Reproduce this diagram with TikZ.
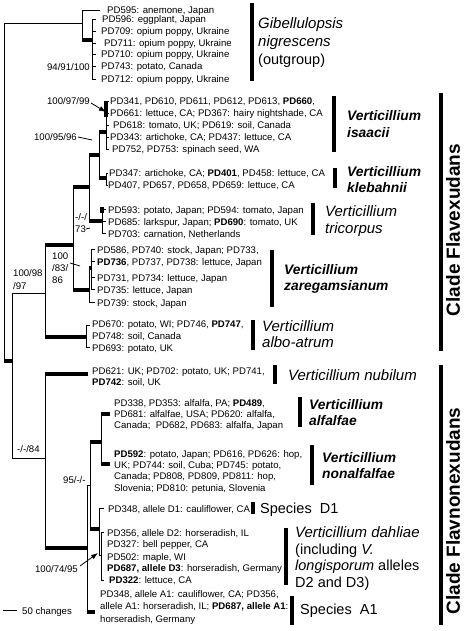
\documentclass[tikz,border=0pt]{standalone}
\usepackage{fontspec}
\setmainfont{Liberation Sans}
\usetikzlibrary{arrows.meta}
\begin{document}
\begin{tikzpicture}[x=1pt,y=-1pt,
  br/.style={line width=0.8pt},
  tb/.style={line width=3.6pt},
  bar/.style={line width=3.2pt},
  arr/.style={line width=0.8pt,-{Latex[length=7pt,width=5pt]}},
  lf/.style={anchor=base west,inner sep=0pt,font=\fontsize{9.6}{12}\selectfont},
  sup/.style={anchor=base west,inner sep=0pt,font=\fontsize{9.6}{12}\selectfont},
  supr/.style={anchor=base east,inner sep=0pt,font=\fontsize{9.6}{12}\selectfont},
  spr/.style={anchor=base west,inner sep=0pt,font=\fontsize{15}{17}\selectfont\itshape},
  spb/.style={anchor=base west,inner sep=0pt,font=\fontsize{13.8}{17}\selectfont\bfseries\itshape},
  spn/.style={anchor=base west,inner sep=0pt,font=\fontsize{14.5}{17}\selectfont},
  clade/.style={rotate=90,inner sep=0pt,font=\fontsize{19}{22}\selectfont\bfseries}]
\useasboundingbox (0,0) rectangle (467,631);

% ---------------- tree ----------------
% root
\draw[br] (4,23) -- (4,361);
\draw[br] (4,23) -- (82,23);
% outgroup
\draw[br] (82,10) -- (82,40);
\draw[br] (82,10) -- (100,10);
\draw[tb] (82,40) -- (92,40);
\draw[br] (92,19) -- (92,79);
\foreach \yy in {19,31,43,54,66,79} \draw[br] (92,\yy) -- (96,\yy);
% ingroup
\draw[tb] (4,361) -- (12,361);
\draw[br] (12,293) -- (12,458);
\draw[br] (12,293) -- (45,293);
\draw[br] (12,458) -- (45,458);
% Flavexudans
\draw[br] (45,245) -- (45,337);
\draw[tb] (45,245) -- (73,245);
\draw[br] (73,187) -- (73,290);
\draw[tb] (73,187) -- (89,187);
\draw[br] (89,155) -- (89,221);
\draw[tb] (89,155) -- (99,155);
\draw[br] (99,132) -- (99,178);
% isaacii
\draw[tb] (99,132) -- (106,132);
\draw[br] (106,101) -- (106,149);
\draw[tb] (106,101) -- (106,117);
\foreach \yy in {101,113,125,137,149} \draw[br] (106,\yy) -- (109,\yy);
% klebahnii
\draw[tb] (99,178) -- (106,178);
\draw[br] (106,173) -- (106,185);
\foreach \yy in {173,185} \draw[br] (106,\yy) -- (108,\yy);
% tricorpus
\draw[tb] (89,221) -- (102,221);
\draw[br] (102,209) -- (102,233);
\draw[tb] (102,207) -- (102,213);
\foreach \yy in {209,221,233} \draw[br] (102,\yy) -- (106,\yy);
% zaregamsianum
\draw[tb] (73,290) -- (89,290);
\draw[br] (89,268) -- (89,302);
\draw[tb] (89,268) -- (91,268);
\draw[br] (91,249) -- (91,289);
\foreach \yy in {249,261,277,289} \draw[br] (91,\yy) -- (95,\yy);
\draw[br] (89,302) -- (95,302);
% albo-atrum
\draw[tb] (45,337) -- (86,337);
\draw[br] (86,325) -- (86,347);
\foreach \yy in {325,347} \draw[br] (86,\yy) -- (90,\yy);
% Flavnonexudans
\draw[br] (45,374) -- (45,548);
\draw[tb] (45,374) -- (88,374);
\draw[tb] (45,548) -- (87,548);
\draw[br] (87,485) -- (87,612);
\draw[br] (87,485) -- (90,485);
\draw[br] (90,442) -- (90,529);
\draw[tb] (90,442) -- (101,442);
\draw[br] (101,414) -- (101,464);
\draw[tb] (101,414) -- (110,414);
\draw[tb] (101,464) -- (110,464);
\draw[tb] (90,529) -- (99,529);
\draw[br] (99,508) -- (99,555);
\draw[br] (99,508) -- (104,508);
\draw[br] (99,555) -- (101,555);
\draw[br] (101,532) -- (101,580);
\foreach \yy in {532,580} \draw[br] (101,\yy) -- (104,\yy);
\draw[tb] (87,612) -- (95,612);

% scale bar
\draw[br] (3,610) -- (17,610);
\node[lf] (scale) at (22,614) {50 changes};

% ---------------- support values ----------------
\node[supr] (s1) at (90,71) {94/91/100};
\node[supr] (s2) at (90,105) {100/97/99};
\draw[arr] (91,103) -- (106,112);
\node[supr] (s3) at (77,141) {100/95/96};
\draw[br] (78,137) -- (92,140);
\node[sup] (s4a) at (75,220) {-/-/};
\node[sup] (s4b) at (75,232) {73};
\draw[br] (86,229) -- (90,228);
\node[sup] (s5a) at (52,259) {100};
\node[sup] (s5b) at (52,271) {/83/};
\node[sup] (s5c) at (52,283) {86};
\draw[br] (70,263) -- (80,266);
\node[sup] (s6a) at (13,276) {100/98};
\node[sup] (s6b) at (13,289) {/97};
\node[sup] (s7) at (17,452) {-/-/84};
\node[sup] (s8) at (63,483) {95/-/-};
\node[supr] (s9) at (78,572) {100/74/95};
\draw[arr] (80,566) -- (98,553);

% ---------------- leaves ----------------
\node[lf] (l1) at (107,14) {PD595: anemone, Japan};
\node[lf] (l2) at (102,23) {PD596: eggplant, Japan};
\node[lf] (l3) at (101,35) {PD709: opium poppy, Ukraine};
\node[lf] (l4) at (104,47) {PD711: opium poppy, Ukraine};
\node[lf] (l5) at (101,58) {PD710: opium poppy, Ukraine};
\node[lf] (l6) at (101,70) {PD743: potato, Canada};
\node[lf] (l7) at (101,83) {PD712: opium poppy, Ukraine};

\node[lf] (i1) at (110,105) {PD341, PD610, PD611, PD612, PD613, \textbf{PD660},};
\node[lf] (i2) at (110,117) {PD661: lettuce, CA; PD367: hairy nightshade, CA};
\node[lf] (i3) at (113,129) {PD618: tomato, UK; PD619: soil, Canada};
\node[lf] (i4) at (110,141) {PD343: artichoke, CA; PD437: lettuce, CA};
\node[lf] (i5) at (112,153) {PD752, PD753: spinach seed, WA};

\node[lf] (k1) at (109,177) {PD347: artichoke, CA; \textbf{PD401}, PD458: lettuce, CA};
\node[lf] (k2) at (108,189) {PD407, PD657, PD658, PD659: lettuce, CA};

\node[lf] (t1) at (108,213) {PD593: potato, Japan; PD594: tomato, Japan};
\node[lf] (t2) at (108,225) {PD685: larkspur, Japan; \textbf{PD690}: tomato, UK};
\node[lf] (t3) at (108,237) {PD703: carnation, Netherlands};

\node[lf] (z1) at (97,253) {PD586, PD740: stock, Japan; PD733,};
\node[lf] (z2) at (97,265) {\textbf{PD736}, PD737, PD738: lettuce, Japan};
\node[lf] (z3) at (97,281) {PD731, PD734: lettuce, Japan};
\node[lf] (z4) at (97,293) {PD735: lettuce, Japan};
\node[lf] (z5) at (97,306) {PD739: stock, Japan};

\node[lf] (a1) at (92,327) {PD670: potato, WI; PD746, \textbf{PD747},};
\node[lf] (a2) at (92,339) {PD748: soil, Canada};
\node[lf] (a3) at (92,351) {PD693: potato, UK};

\node[lf] (n1) at (92,374) {PD621: UK; PD702: potato, UK; PD741,};
\node[lf] (n2) at (92,385) {\textbf{PD742}: soil, UK};

\node[lf] (f1) at (114,406) {PD338, PD353: alfalfa, PA; \textbf{PD489},};
\node[lf] (f2) at (114,417) {PD681: alfalfae, USA; PD620: alfalfa,};
\node[lf] (f3) at (114,428) {Canada;\ \ PD682, PD683: alfalfa, Japan};

\node[lf] (o1) at (114,457) {\textbf{PD592}: potato, Japan; PD616, PD626: hop,};
\node[lf] (o2) at (114,468) {UK; PD744: soil, Cuba; PD745: potato,};
\node[lf] (o3) at (114,479) {Canada; PD808, PD809, PD811: hop,};
\node[lf] (o4) at (114,491) {Slovenia; PD810: petunia, Slovenia};

\node[lf] (d0) at (108,512) {PD348, allele D1: cauliflower, CA};

\node[lf] (d1) at (107,536) {PD356, allele D2: horseradish, IL};
\node[lf] (d2) at (107,547) {PD327: bell pepper, CA};
\node[lf] (d3) at (107,560) {PD502: maple, WI};
\node[lf] (d4) at (107,571) {\textbf{PD687, allele D3}: horseradish, Germany};
\node[lf] (d5) at (109,583) {\textbf{PD322}: lettuce, CA};

\node[lf] (e1) at (100,597) {PD348, allele A1: cauliflower, CA; PD356,};
\node[lf] (e2) at (100,609) {allele A1: horseradish, IL; \textbf{PD687, allele A1}:};
\node[lf] (e3) at (100,622) {horseradish, Germany};

% ---------------- species labels ----------------
\draw[bar] (252,3) -- (252,81);
\node[spr] (g1) at (258,29) {Gibellulopsis};
\node[spr] (g2) at (258,47) {nigrescens};
\node[spn] (g3) at (258,65) {(outgroup)};

\draw[bar] (334,96) -- (334,152);
\node[spb] (is1) at (347,121) {Verticillium};
\node[spb] (is2) at (347,138) {isaacii};

\draw[bar] (335,168) -- (335,188);
\node[spb] (kl1) at (347,176) {Verticillium};
\node[spb] (kl2) at (347,192) {klebahnii};

\draw[bar] (313,203) -- (313,235);
\node[spr] (tr1) at (325,216) {Verticillium};
\node[spr] (tr2) at (325,233) {tricorpus};

\draw[bar] (272,250) -- (272,307);
\node[spb] (za1) at (284,274) {Verticillium};
\node[spb] (za2) at (284,290) {zaregamsianum};

\draw[bar] (253,320) -- (253,350);
\node[spr] (al1) at (262,331) {Verticillium};
\node[spr] (al2) at (262,347) {albo-atrum};

\draw[bar] (275,365) -- (275,384);
\node[spr] (nu1) at (288,380) {Verticillium nubilum};

\draw[bar] (300,397) -- (300,427);
\node[spb] (af1) at (309,409) {Verticillium};
\node[spb] (af2) at (309,425) {alfalfae};

\draw[bar] (312,445) -- (312,485);
\node[spb] (na1) at (322,462) {Verticillium};
\node[spb] (na2) at (322,478) {nonalfalfae};

\draw[bar] (253,502) -- (253,514);
\node[spn] (d1l) at (260,513) {Species\ \ D1};

\draw[bar] (286,528) -- (286,585);
\node[spr] (dh1) at (295,537) {Verticillium dahliae};
\node[spn] (dh2) at (295,554) {(including \textit{V.}};
\node[spn] (dh3) at (295,570) {\textit{longisporum} alleles};
\node[spn] (dh4) at (295,587) {D2 and D3)};

\draw[bar] (292,596) -- (292,625);
\node[spn] (a1l) at (300,614) {Species\ \ A1};

% ---------------- clades ----------------
\draw[bar] (441,93) -- (441,351);
\node[clade] (c1) at (453,230) {Clade Flavexudans};
\draw[bar] (441,365) -- (441,625);
\node[clade] (c2) at (453,511) {Clade Flavnonexudans};
\end{tikzpicture}
\end{document}
